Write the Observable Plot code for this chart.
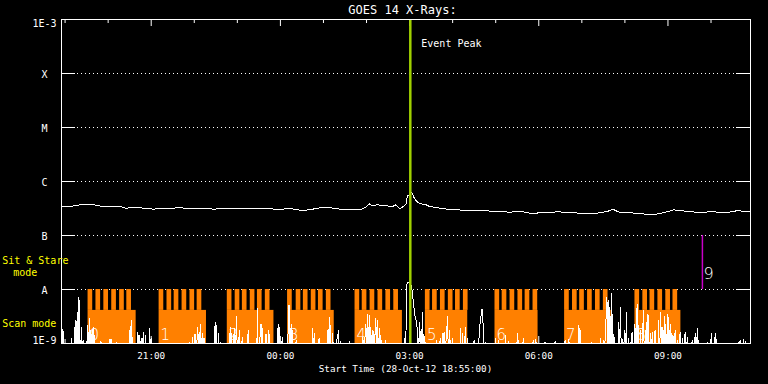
<!DOCTYPE html>
<html>
<head>
<meta charset="utf-8">
<script src="https://cdn.jsdelivr.net/npm/d3@7"></script>
<script src="https://cdn.jsdelivr.net/npm/@observablehq/plot@0.6"></script>
<style>
html,body{margin:0;padding:0;background:#000;}
#chart{width:768px;height:384px;}
</style>
</head>
<body>
<div id="chart"></div>
<script>
// ---------- data ----------
const startTime = Date.UTC(2012, 9, 28, 18, 55); // 28-Oct-12 18:55:00
const spanMinutes = 960;
const title = "GOES 14 X-Rays:";
const xTitle = "Start Time (28-Oct-12 18:55:00)";

const yTickValues = [1e-9, 1e-8, 1e-7, 1e-6, 1e-5, 1e-4, 1e-3];
const yTickLabels = ["1E-9", "A", "B", "C", "M", "X", "1E-3"];

const xTickMinutes = [125, 305, 485, 665, 845];
const xTickLabels = ["21:00", "00:00", "03:00", "06:00", "09:00"];
const hourTickMinutes = [5, 65, 125, 185, 245, 305, 365, 425, 485, 545, 605, 665, 725, 785, 845, 905];

// long channel (1-8 A) flux: [minutes after start, W/m^2]
const longChannel = [
  [0,3.40e-7],[14,3.49e-7],[23,3.64e-7],[31,3.80e-7],[42,3.75e-7],[48,3.64e-7],[55,3.49e-7],[69,3.44e-7],
  [83,3.40e-7],[90,3.20e-7],[97,3.30e-7],[106,3.25e-7],[120,3.20e-7],[127,3.07e-7],[139,3.16e-7],[153,3.20e-7],
  [162,3.25e-7],[181,3.20e-7],[199,3.16e-7],[213,3.07e-7],[222,3.16e-7],[232,3.20e-7],[246,3.12e-7],[269,3.16e-7],
  [290,3.12e-7],[306,3.03e-7],[315,3.16e-7],[329,3.03e-7],[334,2.90e-7],[345,2.99e-7],[357,3.20e-7],[364,3.35e-7],
  [375,3.25e-7],[389,3.07e-7],[403,3.03e-7],[417,2.99e-7],[424,3.35e-7],[429,3.86e-7],[432,3.59e-7],[440,3.70e-7],
  [453,3.55e-7],[461,3.44e-7],[466,3.70e-7],[471,3.12e-7],[475,3.35e-7],[480,3.75e-7],[482,5.51e-7],[486,5.74e-7],
  [488,6.34e-7],[491,5.12e-7],[494,4.44e-7],[497,4.03e-7],[501,3.86e-7],[508,3.70e-7],[512,3.49e-7],[519,3.35e-7],
  [533,3.12e-7],[549,2.99e-7],[573,2.90e-7],[603,2.82e-7],[626,2.70e-7],[637,2.82e-7],[649,2.67e-7],[656,2.52e-7],
  [665,2.63e-7],[677,2.63e-7],[691,2.75e-7],[707,2.67e-7],[721,2.59e-7],[735,2.52e-7],[751,2.63e-7],[765,2.90e-7],
  [767,3.12e-7],[772,2.90e-7],[777,2.70e-7],[788,2.67e-7],[809,2.52e-7],[825,2.42e-7],[835,2.59e-7],[844,2.75e-7],
  [853,2.99e-7],[869,2.82e-7],[888,2.67e-7],[906,2.75e-7],[925,2.67e-7],[937,2.78e-7],[941,2.90e-7],[957,2.75e-7],
  [960,2.75e-7]
];

// short channel (0.5-4 A) flux; LOW = below the plotted range
const LOW = 5e-10;
const shortChannel = [
  [0,LOW],[2,1.8e-9],[4,LOW],
  [12,LOW],[14,1.22e-9],[15,LOW],
  [18,LOW],[19,2.7e-9],[20,LOW],[22,3.8e-9],[23,LOW],[24,7.2e-9],[25,5.4e-9],[26,LOW],[28,2.0e-9],[29,LOW],[30,1.14e-9],[31,LOW],
  [35,LOW],[36,2.15e-9],[37,LOW],[39,2.9e-9],[40,LOW],[41,1.74e-9],[42,LOW],[44,2.0e-9],[45,LOW],[46,1.41e-9],[47,LOW],
  [54,LOW],[55,1.09e-9],[56,LOW],
  [66,LOW],[67,1.17e-9],[68,LOW],[69,1.22e-9],[70,LOW],
  [75,LOW],[76,1.06e-9],[77,LOW],
  [94,LOW],[95,1.74e-9],[96,LOW],[97,2.67e-9],[98,LOW],[99,1.31e-9],[100,LOW],
  [105,LOW],[106,1.62e-9],[107,LOW],[108,1.41e-9],[109,LOW],[111,1.22e-9],[112,LOW],[114,1.62e-9],[115,LOW],[117,1.41e-9],[118,LOW],
  [122,LOW],[123,1.87e-9],[124,LOW],[125,1.22e-9],[126,LOW],
  [177,LOW],[178,1.06e-9],[179,LOW],
  [182,LOW],[183,1.31e-9],[184,LOW],[186,1.51e-9],[187,LOW],[190,2.0e-9],[191,LOW],[192,1.62e-9],[193,LOW],[194,2.3e-9],[195,LOW],[197,1.51e-9],[198,LOW],[199,1.22e-9],[200,LOW],
  [213,LOW],[214,2.5e-9],[215,LOW],[216,2.15e-9],[217,LOW],[219,1.51e-9],[220,LOW],[222,1.06e-9],[223,LOW],
  [233,LOW],[234,1.51e-9],[235,LOW],[236,2.0e-9],[237,LOW],[241,1.87e-9],[242,LOW],[244,3.2e-9],[245,LOW],[248,1.74e-9],[249,LOW],[252,1.31e-9],[253,LOW],
  [259,LOW],[260,1.74e-9],[261,LOW],
  [272,LOW],[273,4.4e-9],[274,LOW],[278,2.3e-9],[279,LOW],[280,1.87e-9],[281,LOW],[285,1.51e-9],[286,LOW],[289,1.74e-9],[290,LOW],
  [300,LOW],[301,1.87e-9],[302,LOW],[303,2.3e-9],[304,LOW],[308,1.31e-9],[309,LOW],
  [315,LOW],[316,2.9e-9],[317,5.1e-9],[318,LOW],[320,2.3e-9],[321,LOW],[322,1.74e-9],[323,LOW],[327,1.14e-9],[328,LOW],
  [349,LOW],[350,1.87e-9],[351,LOW],[352,1.51e-9],[353,LOW],[359,1.22e-9],[360,LOW],
  [370,LOW],[371,1.74e-9],[372,LOW],[373,3.1e-9],[374,LOW],[375,2.15e-9],[376,LOW],[378,1.51e-9],[379,LOW],[386,1.74e-9],[387,LOW],[389,1.09e-9],[390,LOW],
  [400,LOW],[401,1.09e-9],[402,LOW],
  [419,LOW],[420,1.31e-9],[421,LOW],[424,2.3e-9],[425,LOW],[426,3.5e-9],[427,LOW],[429,3.3e-9],[430,LOW],[431,2.0e-9],[432,LOW],[434,1.74e-9],[435,LOW],[438,2.9e-9],[439,LOW],[440,2.67e-9],[441,LOW],[443,1.87e-9],[444,LOW],[445,1.41e-9],[446,LOW],[452,1.14e-9],[453,LOW],
  [477,LOW],[478,1.22e-9],[479,LOW],[480,1.62e-9],[481,1.2e-8],[482,1.37e-8],[484,1.35e-8],[485,1.37e-8],[488,1.1e-8],[490,6.3e-9],[492,3.5e-9],[494,2.67e-9],[496,1.74e-9],[497,LOW],[499,2.5e-9],[500,LOW],[501,1.87e-9],[502,LOW],[503,3.8e-9],[504,LOW],[505,1.51e-9],[506,LOW],[507,1.06e-9],[508,LOW],
  [521,LOW],[522,1.14e-9],[523,LOW],[528,1.22e-9],[529,LOW],[531,1.51e-9],[532,LOW],[533,1.62e-9],[534,LOW],[538,3.2e-9],[539,LOW],[541,1.74e-9],[542,LOW],[545,1.22e-9],[546,LOW],
  [555,LOW],[556,1.87e-9],[557,LOW],[559,1.51e-9],[560,LOW],[563,2.0e-9],[564,LOW],[566,1.22e-9],[567,LOW],[575,1.14e-9],[576,LOW],
  [581,LOW],[582,1.74e-9],[584,2.9e-9],[586,4.4e-9],[588,1.74e-9],[589,LOW],[591,1.06e-9],[592,LOW],
  [604,LOW],[605,1.22e-9],[606,LOW],[609,1.14e-9],[610,LOW],[618,LOW],[619,1.41e-9],[620,LOW],[623,1.09e-9],[624,LOW],
  [634,LOW],[635,1.51e-9],[636,LOW],[637,1.14e-9],[638,LOW],[644,1.22e-9],[645,LOW],[658,1.14e-9],[659,LOW],[661,1.22e-9],[662,LOW],[674,1.06e-9],[675,LOW],[688,1.09e-9],[689,LOW],[702,1.14e-9],[703,LOW],[707,1.22e-9],[708,LOW],
  [720,LOW],[721,2.15e-9],[722,LOW],[723,1.74e-9],[724,LOW],[739,1.06e-9],[740,LOW],
  [750,LOW],[751,1.22e-9],[752,LOW],[755,1.14e-9],[756,LOW],[758,1.74e-9],[760,7.2e-9],[761,LOW],[762,6.3e-9],[763,LOW],[764,4.7e-9],[765,LOW],[766,8.3e-9],[767,LOW],[768,3.5e-9],[769,LOW],[770,1.31e-9],[771,LOW],
  [775,LOW],[776,2.5e-9],[777,LOW],[779,4.7e-9],[780,LOW],[781,1.22e-9],[782,LOW],[785,1.74e-9],[786,LOW],[787,3.8e-9],[788,LOW],[790,1.22e-9],[791,LOW],[795,1.62e-9],[796,LOW],
  [798,LOW],[799,2.3e-9],[800,LOW],[802,5.4e-9],[803,LOW],[804,2.15e-9],[805,LOW],[807,1.74e-9],[808,LOW],[811,4.1e-9],[812,LOW],[814,1.74e-9],[815,LOW],[816,3.5e-9],[817,LOW],[818,3.3e-9],[819,LOW],[821,1.51e-9],[822,LOW],[823,1.62e-9],[824,LOW],[827,1.74e-9],[828,LOW],
  [831,LOW],[832,2.67e-9],[833,LOW],[835,3.8e-9],[836,LOW],[838,2.0e-9],[839,LOW],[840,3.1e-9],[841,LOW],[842,2.3e-9],[843,LOW],[845,3.5e-9],[846,LOW],[847,1.74e-9],[848,LOW],[849,2.3e-9],[850,LOW],[852,1.41e-9],[853,LOW],[855,1.74e-9],[856,LOW],[858,1.14e-9],[859,LOW],[862,1.62e-9],[863,LOW],[865,1.22e-9],[866,LOW],[869,1.62e-9],[870,LOW],[872,1.31e-9],[873,LOW],[879,1.14e-9],[880,LOW],[883,1.51e-9],[884,LOW],[886,1.87e-9],[887,LOW],[888,1.14e-9],[889,LOW],
  [899,LOW],[900,1.06e-9],[901,LOW],[906,1.51e-9],[907,LOW],[911,1.51e-9],[912,LOW],[913,1.17e-9],[914,LOW],
  [943,LOW],[944,1.09e-9],[945,LOW],[946,1.14e-9],[947,LOW],[950,1.17e-9],[951,LOW],[953,1.09e-9],[954,LOW],[960,LOW]
];

// scan-mode blocks: id, tooth start minutes, end minute
const scanIds = [0, 1, 2, 3, 4, 5, 6, 7, 8];
const scanTeeth = [
  [37, 48, 59, 70, 81, 91],
  [136, 147, 157, 168, 179, 189],
  [231, 242, 252, 263, 273, 284],
  [315, 327, 337, 348, 358, 369],
  [409, 419, 430, 441, 452, 463],
  [507, 517, 528, 539, 549, 560],
  [604, 614, 625, 636, 646, 657],
  [701, 712, 722, 733, 744, 755],
  [799, 810, 820, 831, 842, 852]
];
const scanEnds = [104, 202, 296, 380, 475, 566, 664, 766, 863];
const toothMinutes = 6.5;
const scanLevel = 4.1e-9;   // top of the scan band
const stareLevel = 1e-8;    // top of the teeth
const sitStareId = 9;
const sitStareMinute = 893;
const eventPeakMinute = 486;

// ---------- build ----------
const t = m => new Date(startTime + m * 60000);
const blocks = scanIds.map((id, i) => ({id, start: scanTeeth[i][0], end: scanEnds[i]}));
const teeth = scanTeeth.flatMap(a => a.map(s => ({start: s, end: s + toothMinutes})));
const majorTicks = hourTickMinutes.filter(m => xTickMinutes.includes(m));
const minorTicks = hourTickMinutes.filter(m => !xTickMinutes.includes(m));
const yTicks = yTickValues.map((v, i) => ({v, label: yTickLabels[i]}));
const innerLevels = yTickValues.slice(1, -1);

const ORANGE = "#ff8000";
const WHITE = "#ffffff";
const MONO = "DejaVu Sans Mono";
const THIN = "'DejaVu Sans ExtraLight', 'DejaVu Sans'";

const chart = Plot.plot({
  width: 768,
  height: 384,
  marginLeft: 61,
  marginRight: 18,
  marginTop: 19,
  marginBottom: 41,
  style: {background: "#000", color: WHITE, fontFamily: MONO, fontSize: "10px", overflow: "visible"},
  x: {type: "utc", domain: [t(0), t(spanMinutes)], axis: null},
  y: {type: "log", domain: [1e-9, 1e-3], axis: null},
  marks: [
    // hour ticks on top and bottom
    Plot.ruleX(minorTicks, {x: t, stroke: WHITE, insetBottom: 320}),
    Plot.ruleX(majorTicks, {x: t, stroke: WHITE, insetBottom: 317}),
    Plot.ruleX(minorTicks, {x: t, stroke: WHITE, insetTop: 320}),
    Plot.ruleX(majorTicks, {x: t, stroke: WHITE, insetTop: 317}),
    // level ticks & dotted grid
    Plot.ruleY(innerLevels, {stroke: WHITE, insetRight: 675}),
    Plot.ruleY(innerLevels, {stroke: WHITE, insetLeft: 675}),
    Plot.ruleY(innerLevels, {stroke: WHITE, insetLeft: 16, insetRight: 16, strokeDasharray: "1,3"}),
    // scan-mode blocks
    Plot.rect(blocks, {x1: d => t(d.start), x2: d => t(d.end), y1: () => 1e-9, y2: () => scanLevel, fill: ORANGE}),
    Plot.rect(teeth, {x1: d => t(d.start), x2: d => t(d.end), y1: () => scanLevel, y2: () => stareLevel, fill: ORANGE}),
    Plot.text(blocks, {x: d => t(d.start), text: d => String(d.id), frameAnchor: "bottom", dy: -8.5, dx: 1.5,
      textAnchor: "start", lineAnchor: "middle", fill: WHITE, fontSize: 15, fontFamily: THIN, fontWeight: 200}),
    // data
    Plot.line(shortChannel, {x: d => t(d[0]), y: d => d[1], stroke: WHITE, strokeWidth: 1, clip: true, curve: "linear", shapeRendering: "crispEdges"}),
    Plot.line(longChannel, {x: d => t(d[0]), y: d => d[1], stroke: WHITE, strokeWidth: 1, clip: true, curve: "linear", shapeRendering: "crispEdges"}),
    // sit & stare marker
    Plot.ruleX([sitStareMinute], {x: t, y1: () => 1e-8, y2: () => 1e-7, stroke: "#c800c8", strokeWidth: 1.5}),
    Plot.text([sitStareMinute], {x: t, text: () => String(sitStareId), frameAnchor: "bottom", dy: -70, dx: 1,
      textAnchor: "start", lineAnchor: "middle", fill: WHITE, fontSize: 16, fontFamily: THIN, fontWeight: 200}),
    // event peak
    Plot.ruleX([eventPeakMinute], {x: t, stroke: "#a0d000", strokeWidth: 2.5}),
    Plot.text([eventPeakMinute], {x: t, text: () => "Event Peak", frameAnchor: "top", dy: 24.3, dx: 11,
      textAnchor: "start", lineAnchor: "middle", fill: WHITE, fontSize: 10}),
    // frame
    Plot.frame({stroke: WHITE}),
    // y labels
    Plot.text(yTicks.slice(1, -1), {y: "v", text: "label", frameAnchor: "left", dx: -17, textAnchor: "middle", lineAnchor: "middle", dy: 1, fill: WHITE, fontSize: 10}),
    Plot.text(yTicks.slice(-1), {y: "v", text: "label", frameAnchor: "left", dx: -17, textAnchor: "middle", lineAnchor: "top", dy: 0.5, fill: WHITE, fontSize: 10}),
    Plot.text(yTicks.slice(0, 1), {y: "v", text: "label", frameAnchor: "left", dx: -17, textAnchor: "middle", lineAnchor: "middle", dy: -3, fill: WHITE, fontSize: 10}),
    // x labels
    Plot.text(xTickMinutes, {x: t, text: (d, i) => xTickLabels[i], frameAnchor: "bottom", dy: 13, lineAnchor: "middle", fill: WHITE, fontSize: 9.3}),
    Plot.text([xTitle], {text: d => d, frameAnchor: "bottom", dy: 25.8, dx: -0.5, lineAnchor: "middle", fill: WHITE, fontSize: 9.3}),
    // title
    Plot.text([title], {text: d => d, frameAnchor: "top", dy: -9.5, dx: -3.5, lineAnchor: "middle", fill: WHITE, fontSize: 12}),
    // mode labels
    Plot.text(["Sit & Stare"], {text: d => d, frameAnchor: "top-left", dx: -59.3, dy: 240.8, textAnchor: "start", lineAnchor: "middle", fill: "#ffff00", fontSize: 10}),
    Plot.text(["mode"], {text: d => d, frameAnchor: "top-left", dx: -48.3, dy: 252.8, textAnchor: "start", lineAnchor: "middle", fill: "#ffff00", fontSize: 10}),
    Plot.text(["Scan mode"], {text: d => d, frameAnchor: "top-left", dx: -59.3, dy: 304.3, textAnchor: "start", lineAnchor: "middle", fill: "#ffff00", fontSize: 10})
  ]
});
document.getElementById("chart").appendChild(chart);
</script>
</body>
</html>
